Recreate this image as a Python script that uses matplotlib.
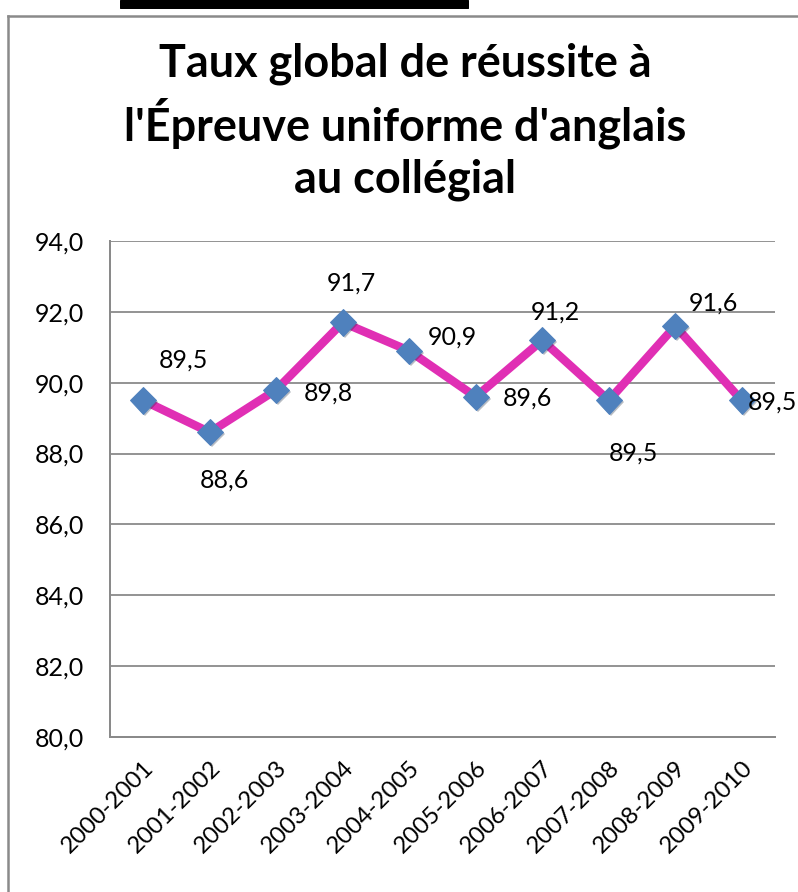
import matplotlib
matplotlib.use("Agg")
import matplotlib.pyplot as plt
from matplotlib.lines import Line2D
from matplotlib.patches import Rectangle
import matplotlib.patheffects as pe

years = ["2000-2001", "2001-2002", "2002-2003", "2003-2004", "2004-2005",
         "2005-2006", "2006-2007", "2007-2008", "2008-2009", "2009-2010"]
rates = [89.5, 88.6, 89.8, 91.7, 90.9, 89.6, 91.2, 89.5, 91.6, 89.5]
yticks = [80.0, 82.0, 84.0, 86.0, 88.0, 90.0, 92.0, 94.0]
title = "Taux global de réussite à\nl'Épreuve uniforme d'anglais\nau collégial"

# label offsets (in points; dpi=72 so points == pixels)
label_offsets = [(40, 40), (15, -48), (52, -3), (9, 39), (43, 14),
                 (52, -1), (13, 28), (25, -53), (38, 23), (31, -2)]

W, H = 798, 892
fig = plt.figure(figsize=(W / 72, H / 72), dpi=72)
plt.rcParams['font.family'] = ['Lato', 'DejaVu Sans']

def fx(px):
    return px / W

def fy(py):
    return 1 - py / H

# frame and black bar
fig.add_artist(Line2D([fx(8), fx(8)], [fy(16), fy(H)], color="#8a8a8a", lw=2.5))
fig.add_artist(Line2D([fx(8), fx(W)], [fy(16), fy(16)], color="#8a8a8a", lw=2.5))
fig.add_artist(Rectangle((fx(120), fy(8)), fx(468) - fx(120), fy(0) - fy(8),
                         color="black", transform=fig.transFigure))

fig.text(fx(405), fy(122), title, ha="center", va="center", fontsize=45,
         fontweight="bold", linespacing=1.28, color="black")

ax = fig.add_axes([fx(110), fy(737), fx(775) - fx(110), fy(241) - fy(737)])
x = list(range(len(years)))
ax.plot(x, rates, color="#E02FB4", lw=8.5, zorder=3, solid_capstyle="butt")
ax.plot(x, rates, linestyle="none", marker="D", markersize=18.5,
        markerfacecolor="#4F81BD", markeredgecolor="#4F81BD", zorder=4,
        path_effects=[pe.SimplePatchShadow(offset=(2, -2), alpha=0.3), pe.Normal()])

for xi, v, off in zip(x, rates, label_offsets):
    ax.annotate(f"{v:.1f}".replace(".", ","), (xi, v), xytext=off,
                textcoords="offset points", ha="center", va="center",
                fontsize=25, color="black", zorder=5)

ax.set_xlim(-0.5, len(years) - 0.5)
ax.set_ylim(80, 94)
ax.set_yticks(yticks)
ax.set_yticklabels([f"{t:.1f}".replace(".", ",") for t in yticks], fontsize=25)
ax.set_xticks(x)
ax.set_xticklabels(years, fontsize=24, rotation=45, ha="right",
                   rotation_mode="anchor")
ax.tick_params(axis="y", length=0, pad=26)
ax.tick_params(axis="x", length=0, pad=20)
ax.grid(axis="y", color="#8a8a8a", lw=1.8)
ax.set_axisbelow(True)
for s in ["top", "right"]:
    ax.spines[s].set_visible(False)
for s in ["left", "bottom"]:
    ax.spines[s].set_color("#8a8a8a")
    ax.spines[s].set_linewidth(2)

fig.savefig("out.png", dpi=72, facecolor="white")
